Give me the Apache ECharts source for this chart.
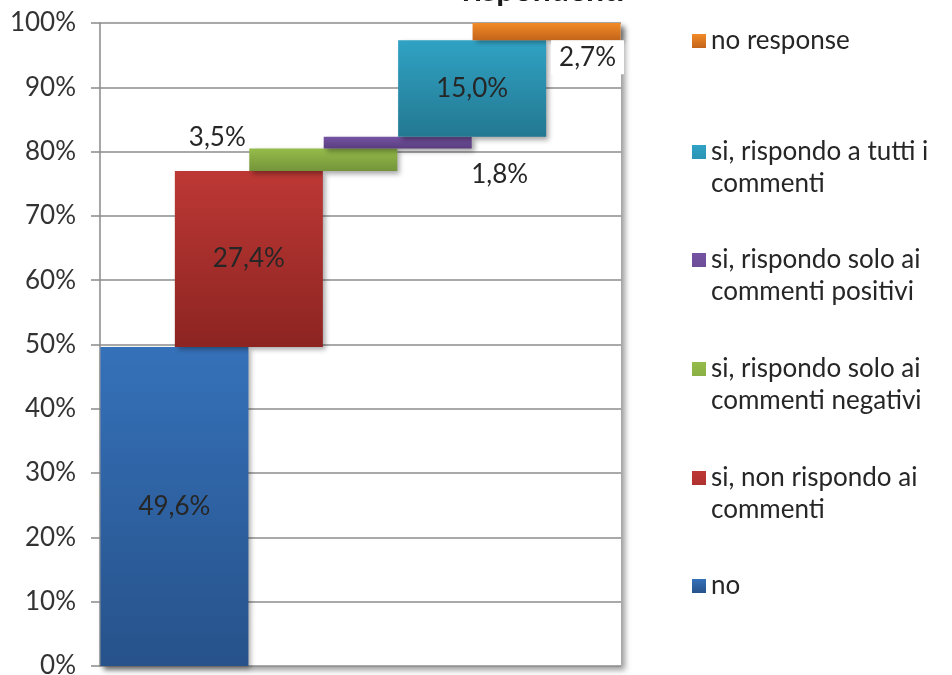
<!DOCTYPE html>
<html>
<head>
<meta charset="utf-8">
<script src="https://cdn.jsdelivr.net/npm/echarts@6/dist/echarts.min.js"></script>
<style>
  html, body { margin: 0; padding: 0; background: #fff; }
  #chart { width: 952px; height: 675px; }
</style>
</head>
<body>
<div id="chart"></div>
<script>
// categories in stacking order (bottom to top)
const names = ['no', 'si, non rispondo ai commenti', 'si, rispondo solo ai commenti negativi',
  'si, rispondo solo ai commenti positivi', 'si, rispondo a tutti i commenti', 'no response']
const wrapped = ['no', 'si, non rispondo ai\ncommenti', 'si, rispondo solo ai\ncommenti negativi',
  'si, rispondo solo ai\ncommenti positivi', 'si, rispondo a tutti i\ncommenti', 'no response']
const shares = [49.6, 27.4, 3.5, 1.8, 15.0, 2.7]
const slots = ['', '', '', '', '', '', '', '']   // x slots, bars sit on 1..6
const yTicks = [0, 10, 20, 30, 40, 50, 60, 70, 80, 90, 100]

const colors = [
  ['#3571b9', '#27528a'],
  ['#bd3835', '#8c2421'],
  ['#95bc4a', '#74943a'],
  ['#7553a3', '#5a3e7f'],
  ['#30a2c4', '#237891'],
  ['#f28a27', '#c2641a']
]
// legend icon centre y per series
const legendY = [586, 478, 369, 260, 152, 41]

const font = 'Lato'
const fmt = v => v.toFixed(1).replace('.', ',') + '%'

// invisible base for the waterfall
let acc = 0
const baseData = slots.map(() => '-')
shares.forEach((s, i) => { baseData[i + 1] = acc; acc += s })

const labelCfg = [
  { show: true, position: 'inside' },
  { show: true, position: 'inside' },
  { show: true, position: 'top', distance: 2, offset: [-106, 4] },
  { show: true, position: 'bottom', distance: 8, offset: [102, 5] },
  { show: true, position: 'inside' },
  { show: true, position: 'bottom', distance: 0, offset: [41, 0], backgroundColor: '#fff', padding: [4, 8, 4, 8], lineHeight: 26 }
]

const series = [{
  name: 'base', type: 'bar', stack: 'w', barWidth: 148, silent: true,
  itemStyle: { color: 'rgba(0,0,0,0)' },
  data: baseData
}]
names.forEach((n, i) => {
  const d = slots.map(() => '-')
  d[i + 1] = shares[i]
  series.push({
    name: n, type: 'bar', stack: 'w', barWidth: 148,
    itemStyle: {
      color: new echarts.graphic.LinearGradient(0, 0, 0, 1, [
        { offset: 0, color: colors[i][0] }, { offset: 1, color: colors[i][1] }
      ]),
      shadowColor: 'rgba(0,0,0,0.35)', shadowBlur: 5, shadowOffsetX: 3, shadowOffsetY: 3
    },
    label: Object.assign({
      fontFamily: font, fontSize: 26, color: '#262626',
      formatter: p => fmt(p.value)
    }, labelCfg[i]),
    data: d
  })
})

// for two-line entries the icon box is taller, with the square at its top,
// so the square lines up with the first text line (as in Excel)
const tallIcon = 'path://M0,0h14v14h-14z M0,46h0.01v0.01h-0.01z'
const legends = names.map((n, i) => {
  const twoLines = wrapped[i].indexOf('\n') >= 0
  return {
    orient: 'vertical', left: 692, top: legendY[i] - 16,
    padding: 0, itemWidth: 14, itemHeight: twoLines ? 46 : 14, itemGap: 0,
    icon: twoLines ? tallIcon : 'rect',
    selectedMode: false,
    data: [n],
    formatter: () => wrapped[i],
    textStyle: { fontFamily: font, fontSize: 26, color: '#262626', lineHeight: 32 }
  }
})

const chart = echarts.init(document.getElementById('chart'))
chart.setOption({
  animation: false,
  title: {
    text: 'rispondenti', left: 457, top: -30,
    textStyle: { fontFamily: font, fontSize: 32, fontWeight: 'bold', color: '#1a1a1a' }
  },
  legend: legends,
  grid: {
    left: 100, right: 331, top: 23, bottom: 9, outerBoundsMode: 'none',
    show: true, borderWidth: 0, backgroundColor: '#fff',
    shadowColor: 'rgba(0,0,0,0.4)', shadowBlur: 6, shadowOffsetX: 4, shadowOffsetY: 4
  },
  xAxis: {
    type: 'category', data: slots, boundaryGap: false,
    axisLine: { show: false }, axisTick: { show: false }, axisLabel: { show: false },
    splitLine: { show: false }
  },
  yAxis: {
    type: 'value', min: yTicks[0], max: yTicks[yTicks.length - 1], interval: 10,
    axisLine: { show: true, lineStyle: { color: '#8a8a8a', width: 1.5 } },
    axisTick: { show: true, length: 9, lineStyle: { color: '#8a8a8a', width: 1.5 } },
    axisLabel: { fontFamily: font, fontSize: 26, color: '#333', margin: 24, formatter: '{value}%' },
    splitLine: { lineStyle: { color: '#8c8c8c', width: 1.5 } }
  },
  series: series
})
</script>
</body>
</html>
